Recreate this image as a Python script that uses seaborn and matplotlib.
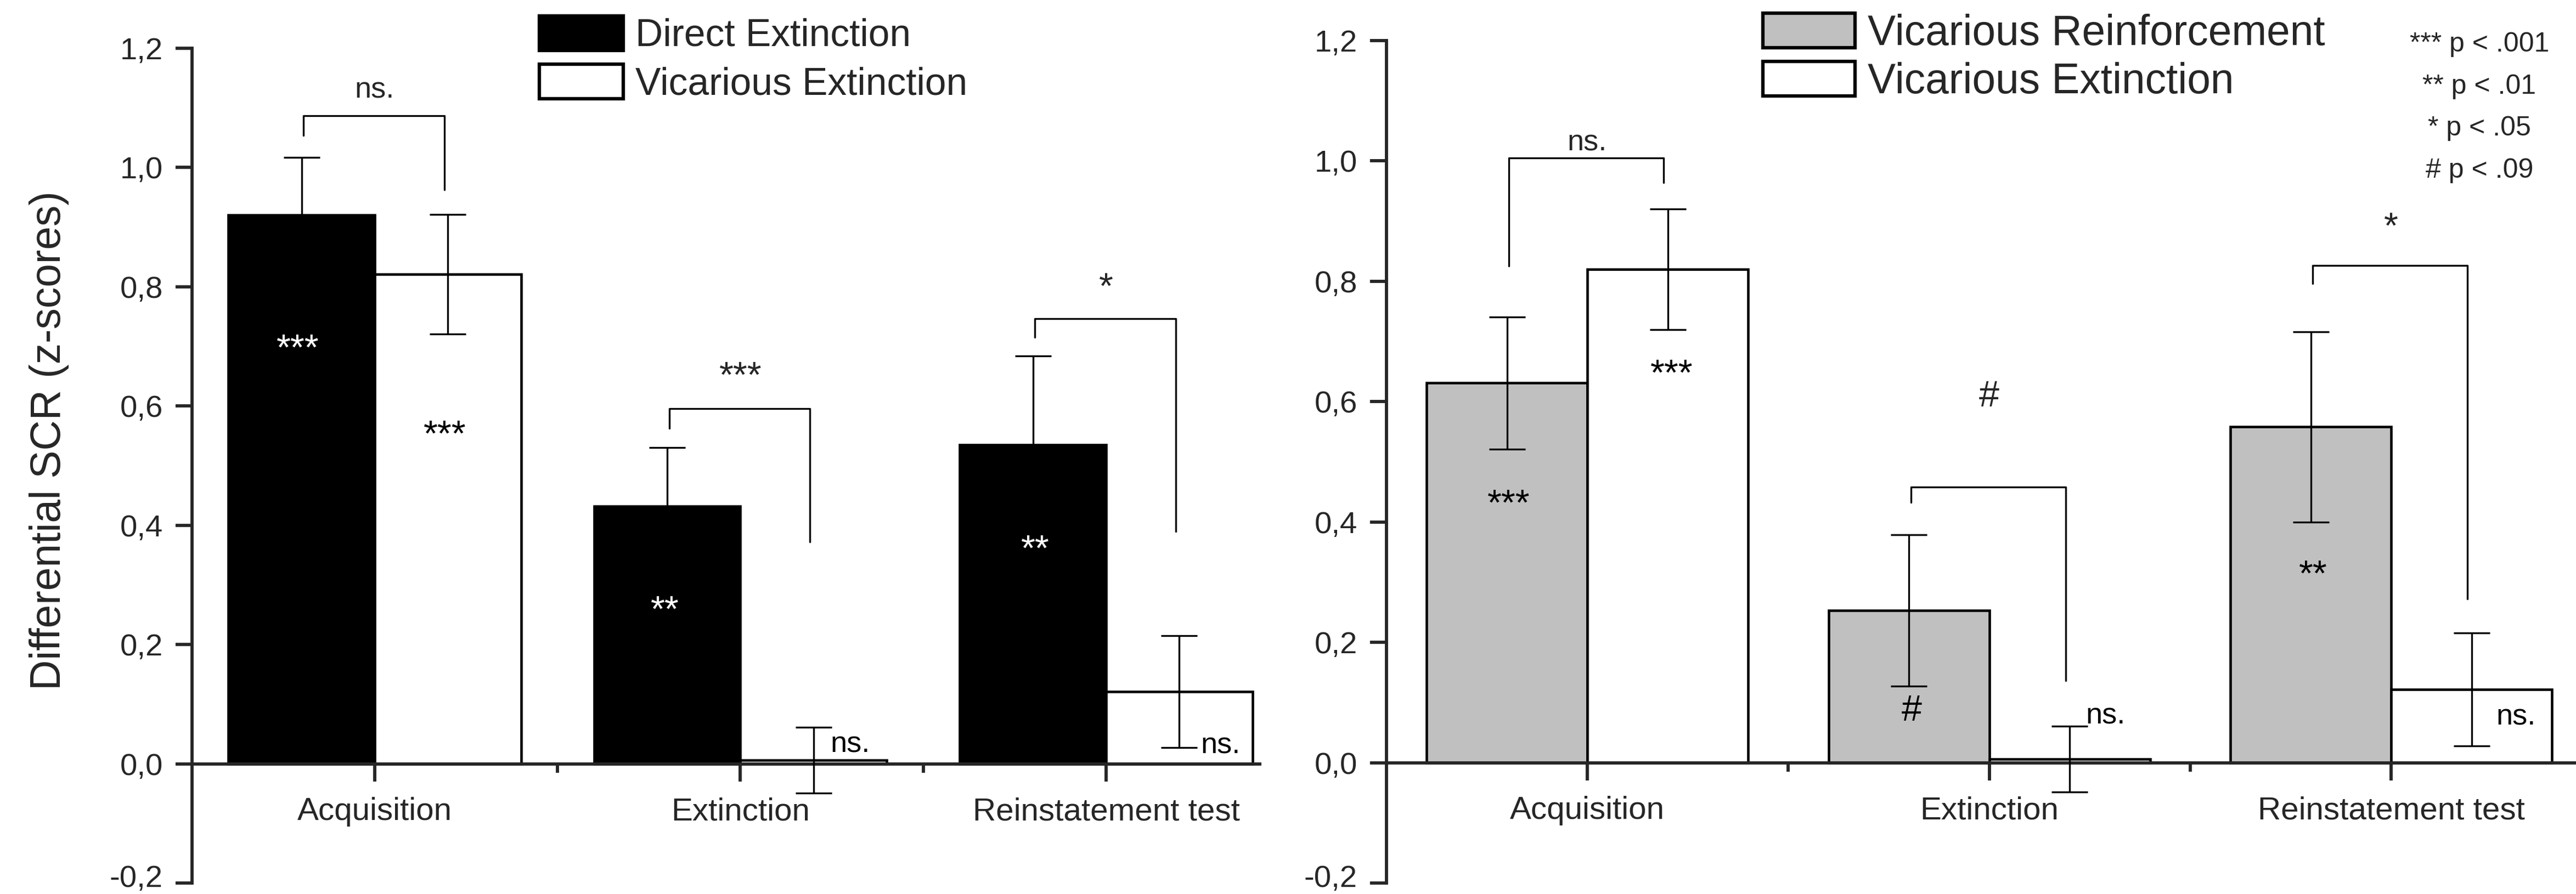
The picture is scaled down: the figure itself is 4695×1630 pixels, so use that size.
import numpy as np
import pandas as pd
import matplotlib
matplotlib.use("Agg")
import matplotlib.pyplot as plt
import matplotlib.transforms as mtransforms
import seaborn as sns
from matplotlib.patches import Patch

phases = ["Acquisition", "Extinction", "Reinstatement test"]

# left panel
left_groups = ["Direct Extinction", "Vicarious Extinction"]
left_colors = ["#000000", "#ffffff"]
left_means = [[0.92, 0.432, 0.535], [0.821, 0.006, 0.121]]
left_sems = [[0.097, 0.098, 0.149], [0.10, 0.055, 0.094]]

# right panel
right_groups = ["Vicarious Reinforcement", "Vicarious Extinction"]
right_colors = ["#c0c0c0", "#ffffff"]
right_means = [[0.631, 0.253, 0.558], [0.82, 0.006, 0.122]]
right_sems = [[0.11, 0.126, 0.158], [0.10, 0.055, 0.094]]

# significance labels inside / next to bars
left_bar_labels = [["***", "**", "**"], ["***", "ns.", "ns."]]
left_bar_label_x = [[-0.21, 0.794, 1.806], [0.192, 1.30, 2.313]]
left_bar_label_y = [[0.694, 0.255, 0.357], [0.549, 0.032, 0.030]]
right_bar_labels = [["***", "#", "**"], ["***", "ns.", "ns."]]
right_bar_label_x = [[-0.195, 0.807, 1.806], [0.21, 1.29, 2.31]]
right_bar_label_y = [[0.428, 0.085, 0.31], [0.644, 0.078, 0.076]]

# comparison brackets
left_br_labels = ["ns.", "***", "*"]
left_br_top = [1.087, 0.596, 0.747]
left_br_left_end = [1.054, 0.563, 0.715]
left_br_right_end = [0.963, 0.372, 0.390]
left_br_label_y = [1.13, 0.648, 0.797]
right_br_labels = ["ns.", "#", "*"]
right_br_top = [1.005, 0.458, 0.826]
right_br_left_end = [0.825, 0.433, 0.796]
right_br_right_end = [0.964, 0.136, 0.272]
right_br_label_y = [1.03, 0.608, 0.888]

p_legend = ["*** p < .001", "** p < .01", "* p < .05", "# p < .09"]
yticks = [-0.2, 0.0, 0.2, 0.4, 0.6, 0.8, 1.0, 1.2]

sns.set_style("ticks")
plt.rcParams["font.family"] = ["Liberation Sans", "DejaVu Sans"]
plt.rcParams["axes.linewidth"] = 1.4

fig = plt.figure(figsize=(4695 / 300, 1630 / 300), dpi=300)
ax1 = fig.add_axes([0.0745, 0.01227, 0.4145, 0.9337])
ax2 = fig.add_axes([0.5382, 0.01227, 0.4618, 0.9423])


def draw_panel(ax, groups, colors, means, sems, bar_labels, bl_x, bl_y,
               br_labels, br_top, br_l, br_r, br_y, xmax):
    rows = []
    for g, m in zip(groups, means):
        for p, v in zip(phases, m):
            rows.append({"phase": p, "group": g, "mean": v})
    df = pd.DataFrame(rows)
    sns.barplot(data=df, x="phase", y="mean", hue="group", order=phases,
                hue_order=groups, palette=dict(zip(groups, colors)),
                saturation=1, errorbar=None, edgecolor="black", linewidth=1.1,
                width=0.8, legend=False, ax=ax, zorder=2)
    for cont, s in zip(ax.containers, sems):
        xs = [b.get_x() + b.get_width() / 2 for b in cont]
        ys = [b.get_height() for b in cont]
        ax.errorbar(xs, ys, yerr=s, fmt="none", ecolor="black",
                    elinewidth=0.8, capsize=8, capthick=0.8, zorder=3)

    text_cols = ["white" if c == "#000000" else "black" for c in colors]
    for k in range(2):
        for i in range(3):
            lab = bar_labels[k][i]
            ax.text(bl_x[k][i], bl_y[k][i], lab, ha="center", va="center",
                    fontsize=13 if lab == "ns." else 16, color=text_cols[k],
                    zorder=4)

    for i in range(3):
        x0, x1 = i - 0.195, i + 0.19
        ax.plot([x0, x0, x1, x1], [br_l[i], br_top[i], br_top[i], br_r[i]],
                color="black", lw=0.8, zorder=3)
        ax.text(i, br_y[i], br_labels[i], ha="center", va="center",
                fontsize=13 if br_labels[i] == "ns." else 16)

    ax.set_xlim(-0.5, xmax)
    ax.set_ylim(-0.2, 1.2)
    ax.set_yticks(yticks)
    ax.set_yticklabels([f"{t:.1f}".replace(".", ",") for t in yticks])
    ax.set_xticks([0, 1, 2])
    ax.set_xticklabels(phases)
    ax.set_xticks([0.5, 1.5], minor=True)
    ax.spines["bottom"].set_position(("data", 0))
    ax.spines["top"].set_visible(False)
    ax.spines["right"].set_visible(False)
    ax.tick_params(axis="x", which="major", direction="out", length=7.6,
                   width=1.4, pad=7, labelsize=14)
    ax.tick_params(axis="x", which="minor", direction="out", length=3.8,
                   width=1.4)
    ax.tick_params(axis="y", direction="out", length=7.2, width=1.4, pad=5.5,
                   labelsize=13.5)
    ax.set_xlabel("")
    ax.set_ylabel("")
    handles = [Patch(facecolor=c, edgecolor="black", linewidth=1.5, label=g)
               for g, c in zip(groups, colors)]
    return handles


h1 = draw_panel(ax1, left_groups, left_colors, left_means, left_sems,
                left_bar_labels, left_bar_label_x, left_bar_label_y,
                left_br_labels, left_br_top, left_br_left_end,
                left_br_right_end, left_br_label_y, 2.42)
h2 = draw_panel(ax2, right_groups, right_colors, right_means, right_sems,
                right_bar_labels, right_bar_label_x, right_bar_label_y,
                right_br_labels, right_br_top, right_br_left_end,
                right_br_right_end, right_br_label_y, 2.46)

ax1.set_ylabel("Differential SCR (z-scores)", fontsize=18.4)
ax1.yaxis.set_label_coords(-0.115, 0.53)

ax1.legend(handles=h1, loc="upper left", bbox_to_anchor=(0.2094, 0.9825),
           bbox_transform=fig.transFigure, frameon=False, fontsize=16.7,
           handlelength=2.2, handleheight=1.016, handletextpad=0.32,
           labelspacing=0.266, borderpad=0, borderaxespad=0)
ax2.legend(handles=h2, loc="upper left", bbox_to_anchor=(0.6843, 0.9853),
           bbox_transform=fig.transFigure, frameon=False, fontsize=18.4,
           handlelength=2.2, handleheight=0.886, handletextpad=0.3,
           labelspacing=0.187, borderpad=0, borderaxespad=0)

for j, t in enumerate(p_legend):
    fig.text(0.9625, 0.9421 - j * 0.0469, t, ha="center", va="baseline",
             fontsize=12)

# keep the lowest tick label inside the canvas
lift = mtransforms.ScaledTranslation(0, 3 / 72, fig.dpi_scale_trans)
for ax in (ax1, ax2):
    lab = ax.get_yticklabels()[0]
    lab.set_transform(lab.get_transform() + lift)

fig.savefig("out.png", dpi=300)
